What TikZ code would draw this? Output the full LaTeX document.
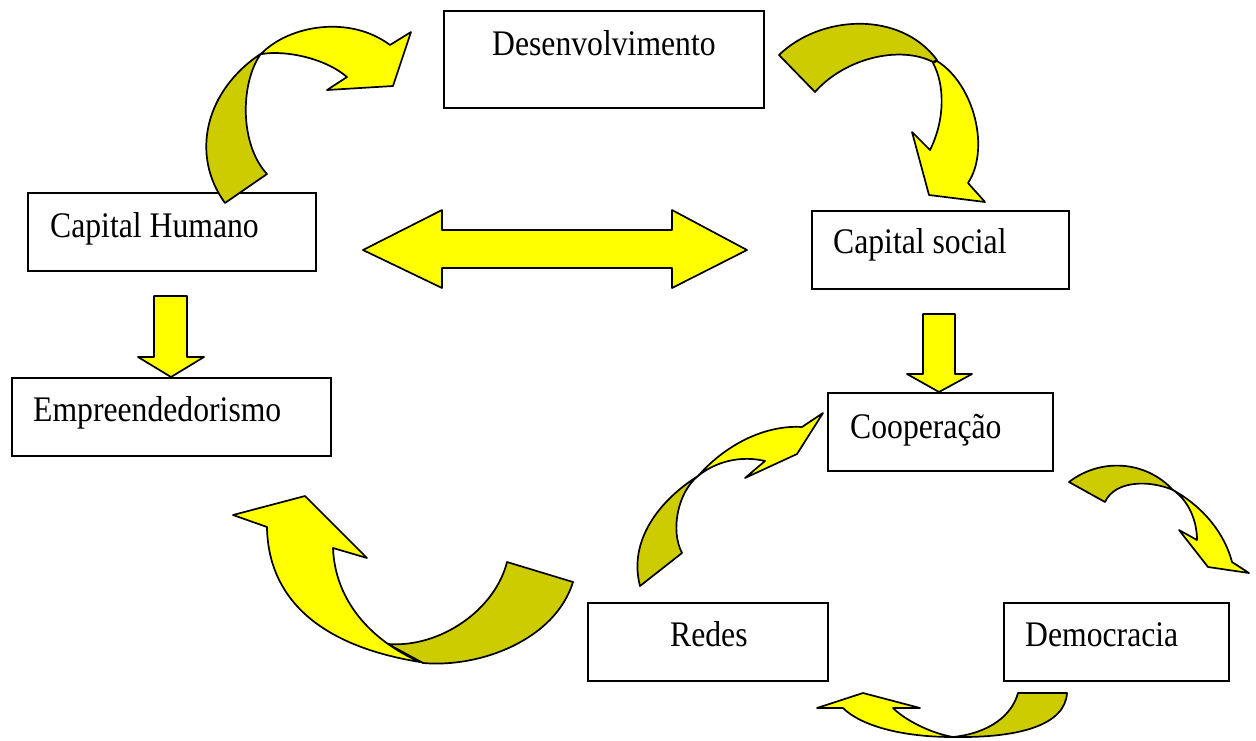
\documentclass[tikz,border=0pt]{standalone}
\usepackage{fontspec}
\setmainfont{Liberation Serif}
\begin{document}
\begin{tikzpicture}[x=1pt,y=-1pt,
  box/.style={draw=black,line width=1.6pt,fill=white,inner sep=0pt,anchor=north west},
  lbl/.style={inner sep=0pt,anchor=base west,font=\fontsize{36}{40}\selectfont},
  lite/.style={fill=arrowyellow,draw=black,line width=1.7pt,line join=round},
  dark/.style={fill=arrowolive,draw=black,line width=1.7pt,line join=round}]
\definecolor{arrowyellow}{HTML}{FFFF00}
\definecolor{arrowolive}{HTML}{CCCC00}
\newcommand{\boxtext}[1]{\scalebox{0.88}[1]{#1}}
\useasboundingbox (0,0) rectangle (1256,740);

% boxes
\node[box,minimum width=320pt,minimum height=97pt] (dev) at (443,10) {};
\node[box,minimum width=288pt,minimum height=78pt] (ch) at (27,192) {};
\node[box,minimum width=319pt,minimum height=78pt] (emp) at (11,377) {};
\node[box,minimum width=257pt,minimum height=78pt] (cs) at (811,210) {};
\node[box,minimum width=225pt,minimum height=78pt] (coop) at (827,392) {};
\node[box,minimum width=240pt,minimum height=78pt] (red) at (587,602) {};
\node[box,minimum width=225pt,minimum height=78pt] (dem) at (1003,602) {};

% labels
\node[lbl] (tdev) at (492,55) {\boxtext{Desenvolvimento}};
\node[lbl] (tch) at (50,237) {\boxtext{Capital Humano}};
\node[lbl] (temp) at (33,421) {\boxtext{Empreendedorismo}};
\node[lbl] (tcs) at (833,253) {\boxtext{Capital social}};
\node[lbl] (tcoop) at (850,438) {\boxtext{Cooperação}};
\node[lbl] (tred) at (670,646) {\boxtext{Redes}};
\node[lbl] (tdem) at (1025,646) {\boxtext{Democracia}};

% straight block arrows
\draw[lite] (363,250) -- (442,210) -- (442,230) -- (672,230) -- (672,210) -- (747,250)
  -- (672,288) -- (672,268) -- (442,268) -- (442,288) -- cycle;
\draw[lite] (154,296) -- (187,296) -- (187,357) -- (204,357) -- (171,377) -- (138,357)
  -- (154,357) -- cycle;
\draw[lite] (923,314) -- (955,314) -- (955,374) -- (972,374) -- (939,392) -- (907,374)
  -- (923,374) -- cycle;

% curved arrow: Capital Humano -> Desenvolvimento
\draw[dark] (225,203) .. controls (190,155) and (205,90) .. (262,53)
  -- (260,55) .. controls (240,85) and (240,145) .. (267,174) -- cycle;
\draw[lite] (262,53) .. controls (290,25) and (350,15) .. (390,45)
  -- (411,32) -- (393,86) -- (327,90) -- (347,77)
  .. controls (325,58) and (285,50) .. (262,54) -- cycle;

% curved arrow: Desenvolvimento -> Capital social
\draw[dark] (779,55) .. controls (820,15) and (900,10) .. (937,60)
  -- (933,62) .. controls (900,45) and (845,58) .. (815,92) -- cycle;
\draw[lite] (937,61) .. controls (975,85) and (990,150) .. (968,183)
  -- (985,202) -- (929,195) -- (912,132) -- (930,150)
  .. controls (945,120) and (945,85) .. (933,63) -- cycle;

% curved arrow: Redes side -> Empreendedorismo
\draw[dark] (388,644) .. controls (440,648) and (495,610) .. (507,562)
  -- (573,582) .. controls (555,640) and (480,668) .. (423,663) -- cycle;
\draw[lite] (420,662) .. controls (315,645) and (268,595) .. (267,527)
  -- (233,515) -- (305,496) -- (367,558) -- (333,548)
  .. controls (335,600) and (370,640) .. (420,662) -- cycle;

% curved arrow: Redes -> Cooperacao
\draw[dark] (640,586) .. controls (628,540) and (660,500) .. (698,476)
  .. controls (678,492) and (670,530) .. (682,553) -- cycle;
\draw[lite] (698,476) .. controls (730,440) and (770,425) .. (802,427)
  -- (823,413) -- (797,454) -- (745,478) -- (765,461)
  .. controls (740,455) and (715,462) .. (698,476) -- cycle;

% curved arrow: Cooperacao -> Democracia
\draw[dark] (1069,482) .. controls (1100,458) and (1145,460) .. (1173,490)
  .. controls (1150,480) and (1115,480) .. (1105,502) -- cycle;
\draw[lite] (1173,490) .. controls (1205,508) and (1225,535) .. (1232,562)
  -- (1249,573) -- (1208,567) -- (1179,530) -- (1197,540)
  .. controls (1197,520) and (1188,500) .. (1173,490) -- cycle;

% curved arrow: Democracia -> Redes
\draw[dark] (1018,693) -- (1067,693)
  .. controls (1065,725) and (1020,738) .. (953,737)
  .. controls (990,733) and (1012,715) .. (1018,693) -- cycle;
\draw[lite] (953,737) .. controls (900,737) and (860,725) .. (843,708)
  -- (817,708) -- (863,693) -- (920,708) -- (893,708)
  .. controls (905,720) and (930,733) .. (953,737) -- cycle;
\end{tikzpicture}
\end{document}
